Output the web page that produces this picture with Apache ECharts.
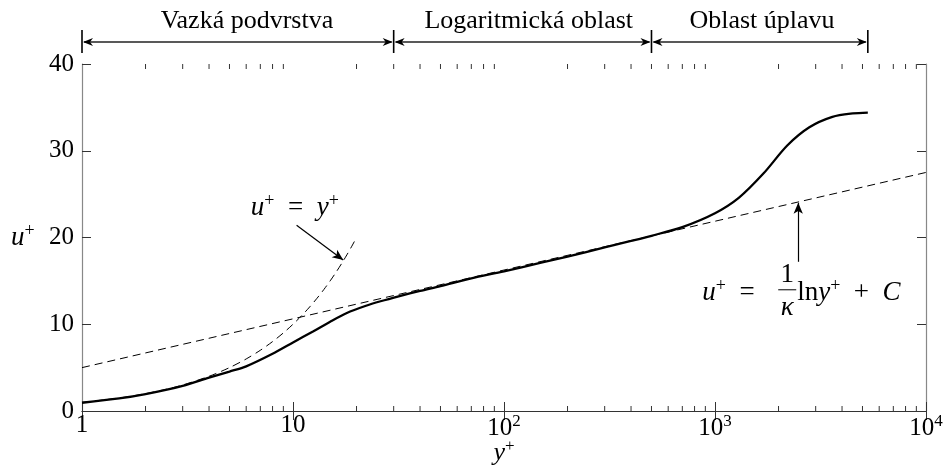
<!DOCTYPE html>
<html><head><meta charset="utf-8">
<script src="https://cdn.jsdelivr.net/npm/echarts@6/dist/echarts.min.js"></script>
<style>html,body{margin:0;padding:0;background:#fff}#c{width:948px;height:469px}</style>
</head><body><div id="c"></div>
<script>
// ---- data ----
const yPlus = [1, 1.5, 2, 3, 4, 5, 6, 8, 10, 12.5, 15, 18, 22, 26, 32, 40, 50, 70, 100, 150, 200, 300, 400, 500, 700, 1000, 1300, 1700, 2200, 2800, 3600, 4500, 5300];
const uPlus = [0.95, 1.45, 1.95, 2.9, 3.85, 4.55, 5.15, 6.6, 7.9, 9.2, 10.3, 11.3, 12.1, 12.65, 13.25, 13.85, 14.4, 15.3, 16.1, 17.1, 17.8, 18.85, 19.6, 20.2, 21.2, 22.8, 24.6, 27.4, 30.6, 32.7, 33.9, 34.3, 34.4];
const sublayerY = [1, 1.5, 2, 2.5, 3, 4, 5, 6, 7, 8, 9, 10, 11, 12, 13, 14, 15, 16, 17, 18, 19, 20];
const sublayerU = [1, 1.5, 2, 2.5, 3, 4, 5, 6, 7, 8, 9, 10, 11, 12, 13, 14, 15, 16, 17, 18, 19, 20];
const logLawY = [1, 10000];
const logLawU = [5.0, 27.5];
const xTickText = ['1', '10', '10{s|2}', '10{s|3}', '10{s|4}'];
const yTicks = [0, 10, 20, 30, 40];
const minorTickValues = [2,3,4,5,6,7,8,9,20,30,40,50,60,70,80,90,200,300,400,500,600,700,800,900,2000,3000,4000,5000,6000,7000,8000,9000];
const regionBounds = [1, 30, 500, 5300];
const regionNames = ['Vazká podvrstva', 'Logaritmická oblast', 'Oblast úplavu'];
const regionLabelAt = [6.05, 131, 1670];
// annotation anchors (data coords)
const arrow1From = [10.4, 21.4], arrow1To = [17.3, 17.4];
const label1At = [10.2, 23.4];
const arrow2From = [2480, 17.2], arrow2To = [2480, 24.0];

const SERIF = '"Liberation Serif", "DejaVu Serif", serif';
const chart = echarts.init(document.getElementById('c'), null, {renderer: 'canvas'});

const richSup = {
  s: {fontSize: 17, fontFamily: SERIF, color: '#000', padding: [0, 0, 13, 0]}
};

const baseX = {
  type: 'log', logBase: 10, min: 1, max: 10000,
  axisLine: {show: true, lineStyle: {color: '#666', width: 1}},
  axisTick: {show: true, inside: true, length: 9, lineStyle: {color: '#333'}},
  splitLine: {show: false}
};
const baseY = {
  type: 'value', min: 0, max: 40, interval: 10,
  axisLine: {show: true, lineStyle: {color: '#888', width: 1.2}},
  axisTick: {show: true, inside: true, length: 9, lineStyle: {color: '#333'}},
  splitLine: {show: false}
};

chart.setOption({
  animation: false,
  backgroundColor: '#fff',
  grid: {left: 82, right: 22, top: 64, bottom: 58, containLabel: false, outerBoundsMode: 'none'},
  xAxis: [
    Object.assign({}, baseX, {
      position: 'bottom',
      name: '{i|y}{s|+}', nameLocation: 'middle', nameGap: 27, nameMoveOverlap: false,
      nameTextStyle: {rich: Object.assign({i: {fontStyle: 'italic', fontSize: 26, fontFamily: SERIF, color: '#000'}}, richSup)},
      axisLabel: {
        show: true, margin: 2, color: '#000', fontSize: 25, fontFamily: SERIF,
        formatter: v => xTickText[Math.round(Math.log10(v))],
        rich: Object.assign({}, richSup)
      }
    }),
    Object.assign({}, baseX, {position: 'top', axisLabel: {show: false}, axisLine: {show: true, lineStyle: {color: '#333', width: 1}}})
  ],
  yAxis: [
    Object.assign({}, baseY, {
      position: 'left',
      axisLabel: {show: true, margin: 8, color: '#000', fontSize: 25, fontFamily: SERIF}
    }),
    Object.assign({}, baseY, {position: 'right', axisLabel: {show: false}})
  ],
  series: [
    {
      type: 'line', xAxisIndex: 0, yAxisIndex: 0, showSymbol: false, smooth: false,
      data: logLawY.map((v, i) => [v, logLawU[i]]),
      lineStyle: {color: '#000', width: 1, type: [8, 5]},
      markLine: {
        silent: true, symbol: ['none', 'arrow'], symbolSize: [7, 11],
        label: {show: false},
        lineStyle: {color: '#000', width: 1.2, type: 'solid'},
        data: [[{coord: arrow2From}, {coord: arrow2To}]]
      }
    },
    {
      type: 'line', xAxisIndex: 0, yAxisIndex: 0, showSymbol: false, smooth: 0.3,
      data: sublayerY.map((v, i) => [v, sublayerU[i]]),
      lineStyle: {color: '#000', width: 1, type: [8, 5]},
      markLine: {
        silent: true, symbol: ['none', 'arrow'], symbolSize: [7, 11],
        label: {show: false},
        lineStyle: {color: '#000', width: 1.2, type: 'solid'},
        data: [[{coord: arrow1From}, {coord: arrow1To}]]
      }
    },
    {
      type: 'line', xAxisIndex: 0, yAxisIndex: 0, showSymbol: false, smooth: 0.3,
      data: yPlus.map((v, i) => [v, uPlus[i]]),
      lineStyle: {color: '#000', width: 2.3}
    },
    {
      type: 'custom', xAxisIndex: 0, yAxisIndex: 0, silent: true, clip: false,
      data: minorTickValues.map(v => [v, 0]),
      renderItem: function (params, api) {
        const x = api.coord([api.value(0), 0])[0];
        const cs = params.coordSys;
        const top = cs.y, bot = cs.y + cs.height;
        return {type: 'group', children: [
          {type: 'line', shape: {x1: x, y1: bot, x2: x, y2: bot - 5}, style: {stroke: '#333', lineWidth: 1}},
          {type: 'line', shape: {x1: x, y1: top, x2: x, y2: top + 5}, style: {stroke: '#333', lineWidth: 1}}
        ]};
      }
    }
  ]
});

// ---- annotations (positions through the chart's own scales) ----
const px = v => chart.convertToPixel({xAxisIndex: 0, yAxisIndex: 0}, v);
const pxX = v => chart.convertToPixel({xAxisIndex: 0}, v);
const g = [];
const barTop = 30, barBot = 53, arrowY = 42;
function head(xTip, dir) { // dir -1 points left, +1 points right
  return {type: 'polygon', shape: {points: [[xTip, arrowY], [xTip - dir * 10, arrowY - 4], [xTip - dir * 7, arrowY], [xTip - dir * 10, arrowY + 4]]},
    style: {fill: '#000'}};
}
regionBounds.forEach(b => {
  const x = pxX(b);
  g.push({type: 'line', shape: {x1: x, y1: barTop, x2: x, y2: barBot}, style: {stroke: '#000', lineWidth: 1.6}});
});
for (let i = 0; i < regionNames.length; i++) {
  const a = pxX(regionBounds[i]), b = pxX(regionBounds[i + 1]);
  g.push({type: 'line', shape: {x1: a + 2, y1: arrowY, x2: b - 2, y2: arrowY}, style: {stroke: '#222', lineWidth: 1.5}});
  g.push(head(a + 1, -1));
  g.push(head(b - 1, 1));
  g.push({type: 'text', x: pxX(regionLabelAt[i]), y: 21,
    style: {text: regionNames[i], font: '26px ' + SERIF, fill: '#000', align: 'center', verticalAlign: 'middle'}});
}
const mathRich = {
  i: {fontStyle: 'italic', fontSize: 27, fontFamily: SERIF, color: '#000'},
  n: {fontSize: 27, fontFamily: SERIF, color: '#000'},
  s: {fontSize: 18, fontFamily: SERIF, color: '#000', padding: [0, 0, 13, 0]}
};
// u+ = y+
const l1 = px(label1At);
g.push({type: 'text', x: l1[0], y: l1[1],
  style: {text: '{i|u}{s|+}{n|  =  }{i|y}{s|+}', rich: mathRich, align: 'center', verticalAlign: 'middle'}});
// u+ = 1/κ ln y+ + C
const a2 = px(arrow2From);
const baseLineY = a2[1] + 31;
const leftX = a2[0] - 96;
g.push({type: 'text', x: leftX, y: baseLineY,
  style: {text: '{i|u}{s|+}{n|  =}', rich: mathRich, align: 'left', verticalAlign: 'middle'}});
const fracX = leftX + 85;
g.push({type: 'text', x: fracX, y: baseLineY - 18,
  style: {text: '1', font: '27px ' + SERIF, fill: '#000', align: 'center', verticalAlign: 'middle'}});
g.push({type: 'line', shape: {x1: fracX - 9, y1: baseLineY - 3, x2: fracX + 9, y2: baseLineY - 3}, style: {stroke: '#000', lineWidth: 1}});
g.push({type: 'text', x: fracX, y: baseLineY + 15,
  style: {text: 'κ', font: 'italic 27px ' + SERIF, fill: '#000', align: 'center', verticalAlign: 'middle'}});
g.push({type: 'text', x: fracX + 10, y: baseLineY,
  style: {text: '{n|ln}{i|y}{s|+}{n|  +  }{i|C}', rich: mathRich, align: 'left', verticalAlign: 'middle'}});
// y axis name u+
g.push({type: 'text', x: 11, y: px([1, 20])[1],
  style: {text: '{i|u}{s|+}', rich: mathRich, align: 'left', verticalAlign: 'middle'}});

chart.setOption({graphic: g});
</script></body></html>
